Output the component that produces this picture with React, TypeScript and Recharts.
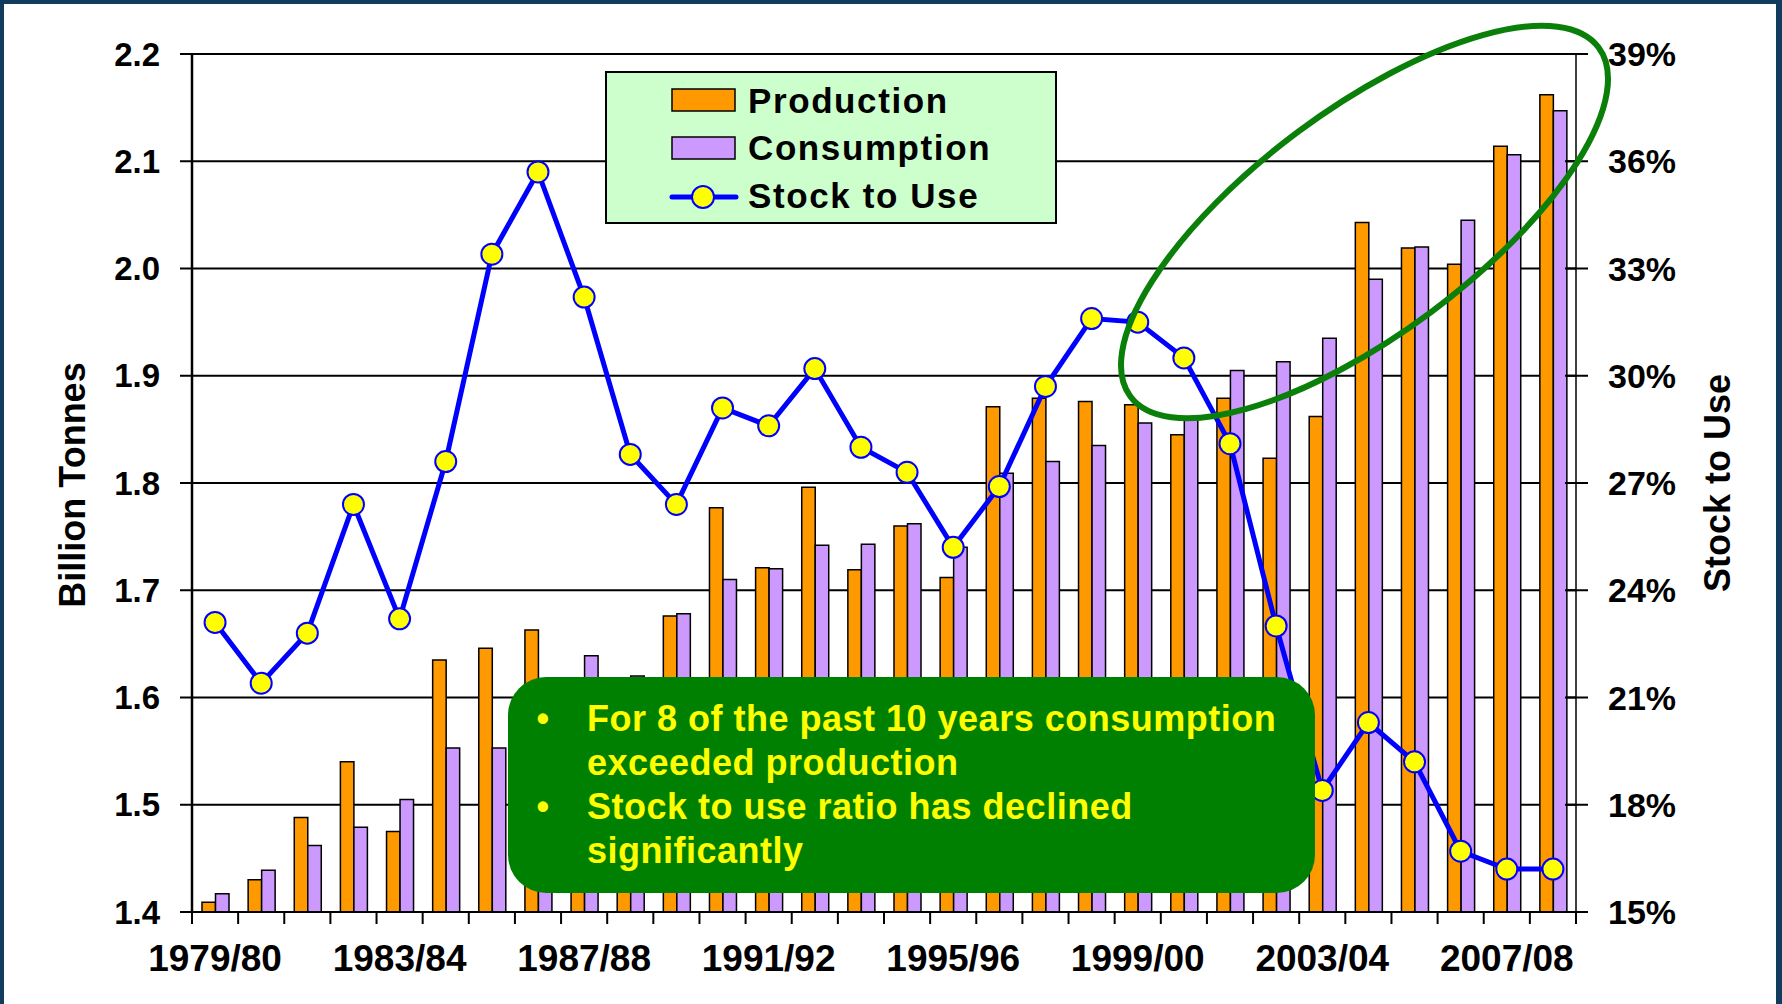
import React from 'react'
import { ComposedChart, Bar, Line, XAxis, YAxis, CartesianGrid } from 'recharts'

const seasons = [
  '1979/80', '1980/81', '1981/82', '1982/83', '1983/84', '1984/85', '1985/86', '1986/87',
  '1987/88', '1988/89', '1989/90', '1990/91', '1991/92', '1992/93', '1993/94', '1994/95',
  '1995/96', '1996/97', '1997/98', '1998/99', '1999/00', '2000/01', '2001/02', '2002/03',
  '2003/04', '2004/05', '2005/06', '2006/07', '2007/08', '2008/09'
]

// billion tonnes
const production = [
  1.409, 1.430, 1.488, 1.540, 1.475, 1.635, 1.646, 1.663, 1.600, 1.550,
  1.676, 1.777, 1.721, 1.796, 1.719, 1.760, 1.712, 1.871, 1.879, 1.876,
  1.873, 1.845, 1.879, 1.823, 1.862, 2.043, 2.019, 2.004, 2.114, 2.162
]

const consumption = [
  1.417, 1.439, 1.462, 1.479, 1.505, 1.553, 1.553, 1.600, 1.639, 1.620,
  1.678, 1.710, 1.720, 1.742, 1.743, 1.762, 1.740, 1.809, 1.820, 1.835,
  1.856, 1.860, 1.905, 1.913, 1.935, 1.990, 2.020, 2.045, 2.106, 2.147
]

// percent
const stockToUse = [
  23.1, 21.4, 22.8, 26.4, 23.2, 27.6, 33.4, 35.7, 32.2, 27.8,
  26.4, 29.1, 28.6, 30.2, 28.0, 27.3, 25.2, 26.9, 29.7, 31.6,
  31.5, 30.5, 28.1, 23.0, 18.4, 20.3, 19.2, 16.7, 16.2, 16.2
]

const leftTicks = [1.4, 1.5, 1.6, 1.7, 1.8, 1.9, 2.0, 2.1, 2.2]
const rightTicks = [15, 18, 21, 24, 27, 30, 33, 36, 39]
const labelledSeasons = ['1979/80', '1983/84', '1987/88', '1991/92', '1995/96', '1999/00', '2003/04', '2007/08']

const noteLines = [
  { bullet: true, text: 'For 8 of the past 10 years consumption' },
  { bullet: false, text: 'exceeded production' },
  { bullet: true, text: 'Stock to use ratio has declined' },
  { bullet: false, text: 'significantly' }
]

const W = 1782
const H = 1004
const PLOT_LEFT = 192
const PLOT_RIGHT = 1576
const FONT = '"Liberation Sans", Arial, Helvetica, sans-serif'
const X_TICK_SIZE = 12
const X_TICK_MARGIN = 21
const R_TICK_SIZE = 12
const R_TICK_MARGIN = 20

const chartData = seasons.map((season, i) => ({
  season,
  production: production[i],
  consumption: consumption[i],
  stockToUse: stockToUse[i]
}))

function SeasonTick(props: any) {
  const { x, y, payload, index } = props
  const half = (PLOT_RIGHT - PLOT_LEFT) / seasons.length / 2
  const axisY = y - X_TICK_SIZE - X_TICK_MARGIN
  return (
    <g>
      <line x1={x - half} x2={x - half} y1={axisY} y2={axisY + X_TICK_SIZE} stroke="#000" strokeWidth={2} />
      {index === seasons.length - 1 && (
        <line x1={x + half} x2={x + half} y1={axisY} y2={axisY + X_TICK_SIZE} stroke="#000" strokeWidth={2} />
      )}
      {labelledSeasons.includes(payload.value) && (
        <text x={x} y={y} dy="0.71em" textAnchor="middle" fontSize={37} fontWeight={700} fontFamily={FONT} fill="#000">
          {payload.value}
        </text>
      )}
    </g>
  )
}

function PercentTick(props: any) {
  const { x, y, payload } = props
  const axisX = x - R_TICK_SIZE - R_TICK_MARGIN
  return (
    <g>
      <line x1={axisX - 11} x2={axisX + R_TICK_SIZE} y1={y} y2={y} stroke="#000" strokeWidth={2} />
      <text x={x} y={y} dy="0.355em" textAnchor="start" fontSize={34} fontWeight={700} fontFamily={FONT} fill="#000">
        {payload.value}%
      </text>
    </g>
  )
}

function Overlay() {
  const legendText = { fontSize: 35, fontWeight: 700, fontFamily: FONT, fill: '#000', letterSpacing: 1.6 }
  const noteText = { fontSize: 36, fontWeight: 700, fontFamily: FONT, fill: '#FFFF00', letterSpacing: 0.5 }
  return (
    <svg width={W} height={H} style={{ position: 'absolute', left: 0, top: 0, pointerEvents: 'none' }}>
      {/* axis titles */}
      <text transform="translate(85,485) rotate(-90)" textAnchor="middle" fontSize={36} fontWeight={700} fontFamily={FONT}>
        Billion Tonnes
      </text>
      <text transform="translate(1730,483) rotate(-90)" textAnchor="middle" fontSize={36} fontWeight={700} fontFamily={FONT}>
        Stock to Use
      </text>

      {/* legend */}
      <rect x={606} y={72} width={450} height={151} fill="#CCFFCC" stroke="#000" strokeWidth={2} />
      <rect x={672} y={89} width={63} height={22} fill="#FF9900" stroke="#000" strokeWidth={1.5} />
      <text x={748} y={113} style={legendText}>Production</text>
      <rect x={672} y={137} width={63} height={22} fill="#CC99FF" stroke="#000" strokeWidth={1.5} />
      <text x={748} y={160} style={legendText}>Consumption</text>
      <line x1={672} x2={736} y1={197} y2={197} stroke="#0000FF" strokeWidth={5} strokeLinecap="round" />
      <circle cx={703} cy={197} r={11} fill="#FFFF00" stroke="#0000FF" strokeWidth={2} />
      <text x={748} y={208} style={legendText}>Stock to Use</text>

      {/* note box */}
      <rect x={508} y={677} width={807} height={216} rx={38} ry={38} fill="#008000" />
      {noteLines.map((line, i) => (
        <g key={line.text}>
          {line.bullet && (
            <text x={543} y={731 + i * 44} textAnchor="middle" style={noteText}>•</text>
          )}
          <text x={587} y={731 + i * 44} style={noteText}>{line.text}</text>
        </g>
      ))}

      {/* highlight ring */}
      <ellipse cx={1364.5} cy={222} rx={292} ry={112} transform="rotate(-36.7 1364.5 222)"
        fill="none" stroke="#0A800A" strokeWidth={6} />
    </svg>
  )
}

export default function App() {
  return (
    <div style={{ position: 'absolute', left: 0, top: 0, width: W, height: H, background: '#123c5e', overflow: 'hidden' }}>
      <div style={{ position: 'absolute', left: 4, top: 4, width: 1772, height: H - 4, background: '#fff' }} />
      <div style={{ position: 'absolute', left: 0, top: 0 }}>
        <ComposedChart
          width={W}
          height={H}
          data={chartData}
          margin={{ top: 54, right: 0, bottom: 0, left: 0 }}
          barGap={0}
        >
          <CartesianGrid yAxisId="left" vertical={false} stroke="#000" strokeWidth={2} strokeOpacity={1} />
          <XAxis
            dataKey="season"
            height={92}
            interval={0}
            tick={<SeasonTick />}
            tickLine={false}
            tickSize={X_TICK_SIZE}
            tickMargin={X_TICK_MARGIN}
            axisLine={{ stroke: '#000', strokeWidth: 2 }}
          />
          <YAxis
            yAxisId="left"
            orientation="left"
            type="number"
            width={PLOT_LEFT}
            domain={[1.4, 2.2]}
            ticks={leftTicks}
            interval={0}
            allowDataOverflow
            tickFormatter={(v: number) => v.toFixed(1)}
            tickSize={12}
            tickMargin={20}
            tick={{ fontSize: 33, fontWeight: 700, fill: '#000', fontFamily: FONT }}
            tickLine={{ stroke: '#000', strokeWidth: 2 }}
            axisLine={{ stroke: '#000', strokeWidth: 2.5 }}
          />
          <YAxis
            yAxisId="right"
            orientation="right"
            type="number"
            width={W - PLOT_RIGHT}
            domain={[15, 39]}
            ticks={rightTicks}
            interval={0}
            allowDataOverflow
            tick={<PercentTick />}
            tickLine={false}
            tickSize={R_TICK_SIZE}
            tickMargin={R_TICK_MARGIN}
            axisLine={{ stroke: '#000', strokeWidth: 1.5 }}
          />
          <Bar yAxisId="left" dataKey="production" fill="#FF9900" stroke="#000" strokeWidth={1.5} barSize={13.5} isAnimationActive={false} />
          <Bar yAxisId="left" dataKey="consumption" fill="#CC99FF" stroke="#000" strokeWidth={1.5} barSize={13.5} isAnimationActive={false} />
          <Line
            yAxisId="right"
            type="linear"
            dataKey="stockToUse"
            stroke="#0000FF"
            strokeWidth={5}
            dot={{ r: 10.5, fill: '#FFFF00', stroke: '#0000FF', strokeWidth: 2 }}
            activeDot={false}
            isAnimationActive={false}
          />
        </ComposedChart>
      </div>
      <Overlay />
    </div>
  )
}
